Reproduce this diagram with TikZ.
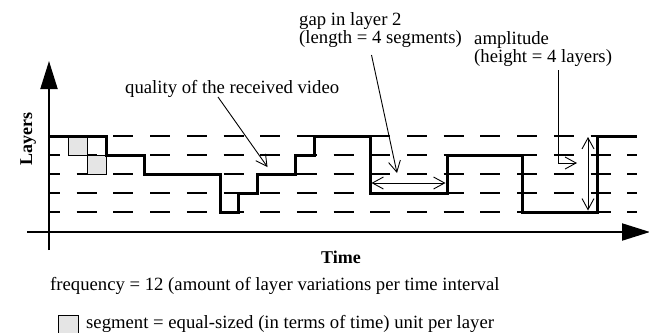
\documentclass[tikz,border=0pt]{standalone}
\usepackage{fontspec}
\setmainfont{Liberation Serif}
\usetikzlibrary{arrows.meta}
\newcommand{\twolines}[3]{\vbox{\baselineskip=#1\lineskiplimit=-20bp\hbox{#2}\hbox{#3}}}
\begin{document}
\begin{tikzpicture}[x=1bp,y=-1bp,
  lbl/.style={font=\fontsize{18.7bp}{18bp}\selectfont, inner sep=0pt, anchor=base west},
  bold/.style={font=\fontsize{18bp}{18bp}\selectfont\bfseries, inner sep=0pt, anchor=base},
  axis/.style={line width=2bp, -{Triangle[length=28bp,width=17bp]}},
  gridline/.style={line width=2bp, dash pattern=on 20bp off 16.7bp, dash phase=9bp},
  stair/.style={line width=3bp, line join=miter},
  segbox/.style={fill=black!10, draw=black, line width=1bp},
  ann/.style={line width=0.9bp, -{Straight Barb[length=11bp,width=12bp]}},
  dbl/.style={line width=0.9bp, {Straight Barb[length=11bp,width=12bp]}-{Straight Barb[length=11bp,width=12bp]}}
]
\useasboundingbox (0,0) rectangle (649,332);

% grid lines (layers)
\foreach \y/\n in {136/1,155/2,174/3,193/4,212/5}{
  \coordinate (gl\n) at (49,\y);
  \coordinate (gr\n) at (637,\y);
  \draw[gridline] (gl\n) -- (gr\n);
}

% axes
\coordinate (xa0) at (27,232);
\coordinate (xa1) at (650,232);
\coordinate (ya0) at (49,250);
\coordinate (ya1) at (49,61);
\draw[axis] (xa0) -- (xa1);
\draw[axis] (ya0) -- (ya1);

% segments
\draw[segbox] (68,136) rectangle (87,155);
\draw[segbox] (87,155) rectangle (106,174);

% quality curve
\draw[stair] (49,136) -- (106,136) -- (106,155) -- (144,155) -- (144,174)
  -- (220,174) -- (220,212) -- (238,212) -- (238,193) -- (257,193)
  -- (257,174) -- (295,174) -- (295,155) -- (314,155) -- (314,136)
  -- (370,136) -- (370,193) -- (447,193) -- (447,155) -- (522,155)
  -- (522,212) -- (597,212) -- (597,136) -- (637,136);

% labels
\node[bold, rotate=90] (layers) at (32,139) {Layers};
\node[bold] (time) at (341,263) {Time};
\node[lbl] (quality) at (125,93) {quality of the received video};
\node[lbl] (gap) at (299,43) {\twolines{17.8bp}{gap in layer 2}{(length = 4 segments)}};
\node[lbl] (amp) at (474,62) {\twolines{17.8bp}{amplitude}{(height = 4 layers)}};
\node[lbl] (freq) at (50,290) {frequency = 12 (amount of layer variations per time interval};
\node[segbox, minimum width=20bp, minimum height=20bp, inner sep=0pt] (legbox) at (68,325) {};
\node[lbl] (segtxt) at (86,328) {segment = equal-sized (in terms of time) unit per layer};

% annotation arrows
\coordinate (q0) at (218,97);
\coordinate (q1) at (267.5,167);
\draw[ann] (q0) -- (q1);
\coordinate (g0) at (371.5,55);
\coordinate (g1) at (397,173);
\draw[ann] (g0) -- (g1);
\coordinate (h0) at (371.5,183);
\coordinate (h1) at (445.5,183);
\draw[dbl] (h0) -- (h1);
\coordinate (a0) at (558,70);
\coordinate (a1) at (577,163);
\draw[ann] (a0) |- (a1);
\coordinate (v0) at (588,137);
\coordinate (v1) at (588,210.5);
\draw[dbl] (v0) -- (v1);
\end{tikzpicture}
\end{document}
